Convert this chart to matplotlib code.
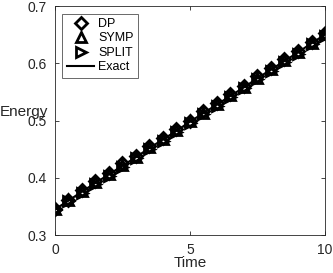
import numpy as np
import matplotlib.pyplot as plt

plt.rcParams['font.family'] = ['Liberation Sans', 'DejaVu Sans']

# time grid and energy values
t = [0, 0.5, 1, 1.5, 2, 2.5, 3, 3.5, 4, 4.5, 5, 5.5, 6, 6.5, 7, 7.5, 8, 8.5, 9, 9.5, 10]
exact = [0.345, 0.360, 0.376, 0.391, 0.406, 0.421, 0.436, 0.452, 0.467, 0.482, 0.498,
         0.513, 0.528, 0.543, 0.558, 0.574, 0.589, 0.604, 0.619, 0.635, 0.650]
dp = [0.346, 0.362, 0.379, 0.394, 0.409, 0.425, 0.438, 0.455, 0.469, 0.485, 0.500,
      0.516, 0.530, 0.546, 0.561, 0.577, 0.591, 0.607, 0.622, 0.638, 0.653]
symp = [0.345, 0.361, 0.377, 0.392, 0.407, 0.422, 0.437, 0.453, 0.468, 0.483, 0.499,
        0.514, 0.529, 0.544, 0.559, 0.575, 0.590, 0.605, 0.620, 0.636, 0.651]
split = [0.344, 0.359, 0.374, 0.389, 0.404, 0.419, 0.434, 0.450, 0.465, 0.480, 0.496,
         0.511, 0.526, 0.541, 0.556, 0.572, 0.587, 0.602, 0.617, 0.633, 0.648]

fig = plt.figure(figsize=(3.33, 2.73), dpi=100)
ax = fig.add_axes([0.165, 0.139, 0.811, 0.839])

mk = dict(linestyle='none', color='black', markerfacecolor='none', markersize=7.5, markeredgewidth=2)
ax.plot(t, dp, marker='D', label='DP', **dict(mk, markersize=6))
ax.plot(t, symp, marker='^', label='SYMP', **mk)
ax.plot(t, split, marker='>', label='SPLIT', **mk)
ax.plot(t, exact, color='black', linewidth=1.5, label='Exact')

ax.set_xlim(0, 10)
ax.set_ylim(0.3, 0.7)
ax.set_xticks([0, 5, 10])
ax.set_yticks([0.3, 0.4, 0.5, 0.6, 0.7])
ax.set_yticklabels(['0.3', '0.4', '0.5', '0.6', '0.7'])
ax.tick_params(direction='in', top=True, right=True, labelsize=10, length=3,
               color='#262626', labelcolor='#262626', width=0.6)
ax.tick_params(axis='y', pad=6)
ax.tick_params(axis='x', pad=6)
for s in ax.spines.values():
    s.set_color('#262626')
    s.set_linewidth(0.6)

ax.set_xlabel('Time', fontsize=11, color='#262626', labelpad=-1)
fig.text(0.0, 1 - 112 / 273, 'Energy', fontsize=11, color='#262626', ha='left', va='center')

leg = ax.legend(loc='upper left', fontsize=9, frameon=True, fancybox=False,
                edgecolor='#262626', borderpad=0.35, labelspacing=0.2,
                handlelength=2.2, handletextpad=0.3, borderaxespad=0.6)
leg.get_frame().set_linewidth(0.6)

fig.savefig('out.png', dpi=100)
